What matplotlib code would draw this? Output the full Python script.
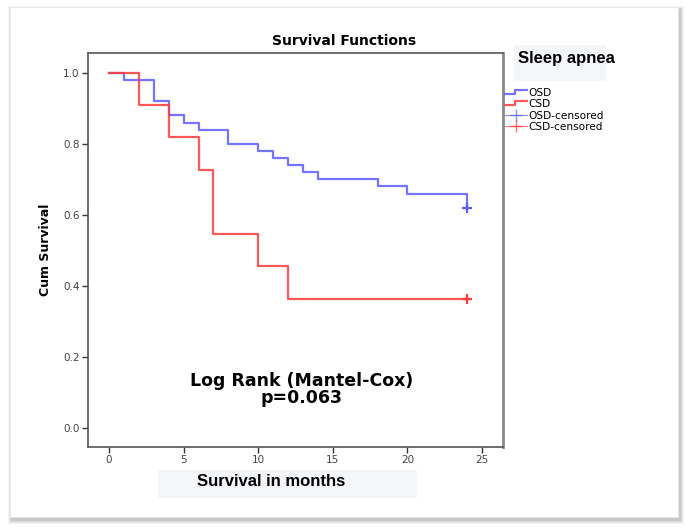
import matplotlib
matplotlib.use('Agg')
import matplotlib.pyplot as plt
from matplotlib.patches import Rectangle
from matplotlib.lines import Line2D
from matplotlib.legend_handler import HandlerBase
import numpy as np

# Kaplan-Meier steps
osd_t = [0, 1, 3, 4, 5, 6, 8, 10, 11, 12, 13, 14, 18, 20, 24]
osd_s = [1.0, 0.98, 0.92, 0.88, 0.86, 0.84, 0.80, 0.78, 0.76, 0.74, 0.72, 0.70, 0.68, 0.66, 0.62]
csd_t = [0, 2, 4, 6, 7, 10, 12, 24]
csd_s = [1.0, 0.909, 0.818, 0.727, 0.545, 0.455, 0.364, 0.364]
osd_cens = [(24, 0.62)]
csd_cens = [(24, 0.364)]

xticks = [0, 5, 10, 15, 20, 25]
yticks = [0.0, 0.2, 0.4, 0.6, 0.8, 1.0]

blue = '#5c5cff'
red = '#ff3b3b'

W, H = 687, 530
fig = plt.figure(figsize=(W/100, H/100), dpi=100)
fig.patch.set_facecolor('white')

# card with a soft shadow
for i, a in enumerate([0.04, 0.05, 0.06, 0.08]):
    d = 4 - i
    fig.patches.append(Rectangle(((10 - d + 2)/W, 1 - (517 + d + 3)/H), (668 + 2*d)/W, (510 + 2*d)/H,
                                 transform=fig.transFigure, facecolor='black', alpha=a,
                                 edgecolor='none', zorder=0))
fig.patches.append(Rectangle((10/W, 1 - 517/H), 668/W, 510/H, transform=fig.transFigure,
                             facecolor='white', edgecolor='#e6e6e6', lw=0.6, zorder=1))
# faint boxes behind the overlaid labels
fig.patches.append(Rectangle((514/W, 1 - 81/H), 92/W, 36/H, transform=fig.transFigure,
                             facecolor='#f5f6fa', edgecolor='none', zorder=2))
fig.patches.append(Rectangle((158/W, 1 - 498/H), 259/W, 28/H, transform=fig.transFigure,
                             facecolor='#f5f6fa', edgecolor='none', zorder=2))

ax = fig.add_axes([88/W, 1 - 447/H, 415/W, 394/H])
ax.set_zorder(3)
ax.patch.set_facecolor('white')

ax.step(osd_t, osd_s, where='post', color=blue, lw=1.6, alpha=0.85, zorder=3)
ax.step(csd_t, csd_s, where='post', color=red, lw=1.6, alpha=0.85, zorder=4)
ax.plot([c[0] for c in osd_cens], [c[1] for c in osd_cens], '+', color=blue, ms=6.5, mew=1.6, zorder=3)
ax.plot([c[0] for c in csd_cens], [c[1] for c in csd_cens], '+', color=red, ms=6.5, mew=1.6, zorder=4)

ax.set_xlim(-1.41, 26.4)
ax.set_ylim(-0.054, 1.056)
ax.set_xticks(xticks)
ax.set_yticks(yticks)
ax.set_yticklabels(['%.1f' % v for v in yticks])
ax.tick_params(direction='out', length=4, width=1, colors='#333333', labelsize=7.5,
               labelcolor='#444444', pad=2)
for s in ['left', 'bottom', 'top']:
    ax.spines[s].set_color('#555555')
    ax.spines[s].set_linewidth(1.2)
ax.spines['right'].set_color('#888888')
ax.spines['right'].set_linewidth(2)

ax.set_ylabel('Cum Survival', fontsize=9, fontweight='bold', labelpad=8)

ax.text(0.515, 0.145, 'Log Rank (Mantel-Cox)\np=0.063', transform=ax.transAxes,
        ha='center', va='center', fontsize=12.5, fontweight='bold', linespacing=0.92)

fig.text(344/W, 1 - 41/H, 'Survival Functions', ha='center', va='center',
         fontsize=10, fontweight='bold', zorder=5)
fig.text(518/W, 1 - 59/H, 'Sleep apnea', ha='left', va='center', family='Liberation Sans',
         fontsize=12, fontweight='bold', zorder=5)
fig.text(271/W, 1 - 482/H, 'Survival in months', ha='center', va='center',
         family='Liberation Sans', fontsize=12, fontweight='bold', zorder=5)


class StepHandler(HandlerBase):
    def create_artists(self, legend, orig, xd, yd, w, h, fontsize, trans):
        xs = [xd, xd + w*0.45, xd + w*0.45, xd + w]
        ys = [h*0.3 - yd, h*0.3 - yd, h*0.8 - yd, h*0.8 - yd]
        ln = Line2D(xs, ys, color=orig.get_color(), lw=1.6, alpha=0.85, transform=trans)
        return [ln]


h_osd = Line2D([], [], color=blue)
h_csd = Line2D([], [], color=red)
h_osdc = Line2D([], [], color=blue, marker='+', ls='-', lw=0.8, ms=9, mew=1, alpha=0.7)
h_csdc = Line2D([], [], color=red, marker='+', ls='-', lw=0.8, ms=9, mew=1, alpha=0.7)
leg = fig.legend([h_osd, h_csd, h_osdc, h_csdc], ['OSD', 'CSD', 'OSD-censored', 'CSD-censored'],
                 handler_map={h_osd: StepHandler(), h_csd: StepHandler()},
                 loc='upper left', bbox_to_anchor=(505/W, 1 - 88/H), frameon=False,
                 fontsize=7.6, handlelength=2.1, handletextpad=0.1, borderpad=0,
                 borderaxespad=0, labelspacing=0.12)
leg.set_zorder(6)

fig.savefig('out.png', dpi=100)
